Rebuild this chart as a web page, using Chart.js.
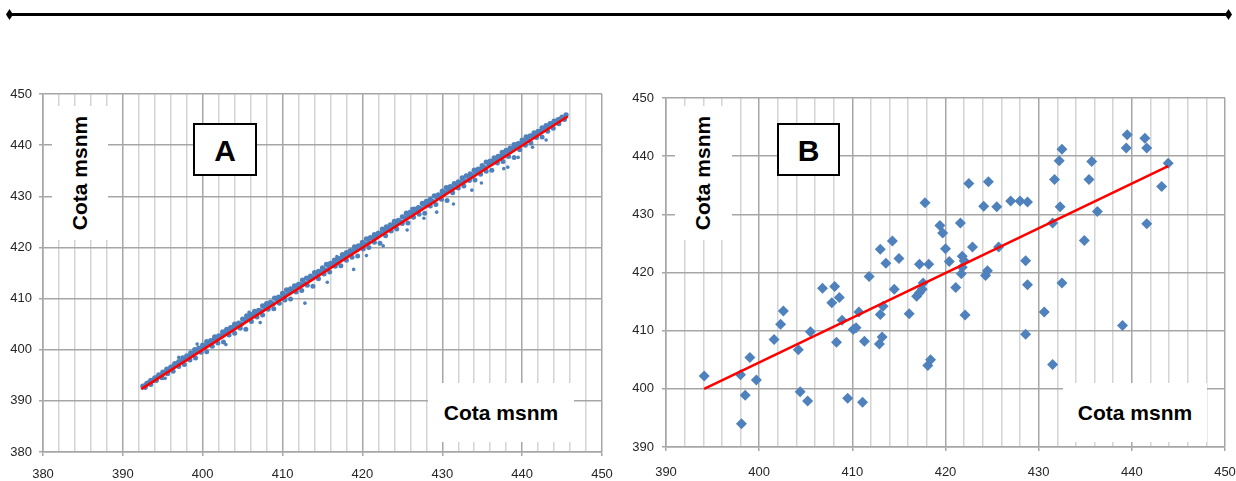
<!DOCTYPE html>
<html>
<head>
<meta charset="utf-8">
<script src="https://cdn.jsdelivr.net/npm/chart.js@4/dist/chart.umd.min.js"></script>
<style>
  body { margin: 0; background: #fff; width: 1236px; height: 481px; position: relative; overflow: hidden;
         font-family: "Liberation Sans", Arial, sans-serif; }
  .rule { position: absolute; left: 10px; top: 13px; width: 1218px; height: 3px; background: #000; }
  .tip { position: absolute; top: 9px; width: 7px; height: 11px; background: #000;
         clip-path: polygon(50% 0, 100% 50%, 50% 100%, 0 50%); }
  .panel { position: absolute; top: 80px; }
  .tag { position: absolute; box-sizing: border-box; background: #fff; border: 2px solid #000;
         font-weight: bold; font-size: 30px; padding-top: 3px;
         display: flex; align-items: center; justify-content: center; z-index: 2; }
  .title { position: absolute; background: #fff; font-weight: bold; font-size: 21px; color: #000;
           display: flex; align-items: center; justify-content: center; z-index: 2; }
  .title.v span { display: block; white-space: nowrap; transform: rotate(-90deg); }
</style>
</head>
<body>
<div class="rule"></div>
<div class="tip" style="left:6px"></div>
<div class="tip" style="left:1225px"></div>

<div class="panel" style="left:0"><canvas id="chartA" width="615" height="401"></canvas></div>
<div class="panel" style="left:620px"><canvas id="chartB" width="616" height="401"></canvas></div>

<div class="tag" style="left:193px;top:123px;width:64px;height:53px">A</div>
<div class="tag" style="left:777px;top:123px;width:63px;height:53px">B</div>
<div class="title v" style="left:52px;top:106px;width:56px;height:134px"><span>Cota msnm</span></div>
<div class="title v" style="left:675px;top:106px;width:57px;height:134px"><span>Cota msnm</span></div>
<div class="title" style="left:428px;top:383px;width:146px;height:59px">Cota msnm</div>
<div class="title" style="left:1063px;top:383px;width:144px;height:59px">Cota msnm</div>

<script>
// Panel A: dense cloud of measured vs. computed heights (upper fringe, core, lower fringe)
const bandUpperA = [
  [392.5,392.9],[393.0,393.4],[393.5,394.0],[394.0,394.5],[394.5,395.1],[395.0,395.6],[395.5,396.2],
  [396.0,396.6],[396.5,397.3],[397.0,397.7],[397.5,398.4],[398.0,398.8],[398.5,399.4],[399.0,400.0],
  [399.5,400.3],[400.0,400.9],[400.5,401.6],[401.0,401.8],[401.5,402.5],[402.0,402.7],[402.5,403.5],
  [403.0,404.0],[403.5,404.3],[404.0,405.0],[404.5,405.2],[405.0,406.0],[405.5,406.6],[406.0,406.9],
  [406.5,407.5],[407.0,407.7],[407.5,408.6],[408.0,409.0],[408.5,409.3],[409.0,410.1],[409.5,410.3],
  [410.0,411.0],[410.5,411.7],[411.0,411.9],[411.5,412.5],[412.0,412.8],[412.5,413.6],[413.0,414.0],
  [413.5,414.4],[414.0,415.1],[414.5,415.3],[415.0,416.0],[415.5,416.7],[416.0,416.9],[416.5,417.5],
  [417.0,417.8],[417.5,418.6],[418.0,419.0],[418.5,419.4],[419.0,420.1],[419.5,420.3],[420.0,421.0],
  [420.5,421.7],[421.0,421.9],[421.5,422.5],[422.0,422.8],[422.5,423.6],[423.0,424.0],[423.5,424.4],
  [424.0,425.1],[424.5,425.3],[425.0,426.0],[425.5,426.7],[426.0,426.9],[426.5,427.5],[427.0,427.8],
  [427.5,428.6],[428.0,429.0],[428.5,429.4],[429.0,430.1],[429.5,430.3],[430.0,431.0],[430.5,431.7],
  [431.0,431.9],[431.5,432.5],[432.0,432.8],[432.5,433.6],[433.0,434.0],[433.5,434.4],[434.0,435.1],
  [434.5,435.3],[435.0,436.0],[435.5,436.7],[436.0,436.9],[436.5,437.5],[437.0,437.8],[437.5,438.6],
  [438.0,439.0],[438.5,439.4],[439.0,440.1],[439.5,440.3],[440.0,441.0],[440.5,441.6],[441.0,441.8],
  [441.5,442.4],[442.0,442.7],[442.5,443.4],[443.0,443.8],[443.5,444.2],[444.0,444.7],[444.5,445.0],
  [445.0,445.5],[445.5,445.9]
];
const bandCoreA = [
  [392.8,393.0],[393.3,393.6],[393.8,394.0],[394.3,394.6],[394.8,395.0],[395.3,395.6],[395.8,396.1],
  [396.3,396.7],[396.8,397.1],[397.3,397.7],[397.8,398.1],[398.3,398.7],[398.8,399.2],[399.3,399.6],
  [399.8,400.3],[400.3,400.7],[400.8,401.0],[401.3,401.8],[401.8,402.1],[402.3,402.7],[402.8,403.2],
  [403.3,403.6],[403.8,404.3],[404.3,404.7],[404.8,405.0],[405.3,405.8],[405.8,406.1],[406.3,406.7],
  [406.8,407.2],[407.3,407.6],[407.8,408.3],[408.3,408.7],[408.8,409.0],[409.3,409.8],[409.8,410.1],
  [410.3,410.7],[410.8,411.2],[411.3,411.6],[411.8,412.3],[412.3,412.7],[412.8,413.0],[413.3,413.8],
  [413.8,414.1],[414.3,414.7],[414.8,415.2],[415.3,415.6],[415.8,416.3],[416.3,416.7],[416.8,417.0],
  [417.3,417.8],[417.8,418.1],[418.3,418.7],[418.8,419.2],[419.3,419.6],[419.8,420.3],[420.3,420.7],
  [420.8,421.0],[421.3,421.8],[421.8,422.1],[422.3,422.7],[422.8,423.2],[423.3,423.6],[423.8,424.3],
  [424.3,424.7],[424.8,425.0],[425.3,425.8],[425.8,426.1],[426.3,426.7],[426.8,427.2],[427.3,427.6],
  [427.8,428.3],[428.3,428.7],[428.8,429.0],[429.3,429.8],[429.8,430.1],[430.3,430.7],[430.8,431.2],
  [431.3,431.6],[431.8,432.3],[432.3,432.7],[432.8,433.0],[433.3,433.8],[433.8,434.1],[434.3,434.7],
  [434.8,435.2],[435.3,435.6],[435.8,436.3],[436.3,436.7],[436.8,437.0],[437.3,437.8],[437.8,438.1],
  [438.3,438.7],[438.8,439.2],[439.3,439.6],[439.8,440.3],[440.3,440.7],[440.8,441.0],[441.3,441.8],
  [441.8,442.1],[442.3,442.7],[442.8,443.2],[443.3,443.6],[443.8,444.2],[444.3,444.6],[444.8,445.1]
];
const bandLowerA = [
  [392.8,392.6],[393.5,393.2],[394.2,394.0],[394.9,394.5],[395.6,395.3],[396.3,395.8],[397.0,396.7],
  [397.7,397.1],[398.4,398.0],[399.1,398.4],[399.8,399.5],[400.5,399.6],[401.2,400.7],[401.9,401.3],
  [402.6,401.5],[403.3,402.9],[404.0,403.2],[404.7,404.2],[405.4,404.0],[406.1,405.5],[406.8,406.4],
  [407.5,406.8],[408.2,407.9],[408.9,408.0],[409.6,409.1],[410.3,409.7],[411.0,409.9],[411.7,411.3],
  [412.4,411.6],[413.1,412.6],[413.8,412.4],[414.5,413.9],[415.2,414.8],[415.9,415.2],[416.6,416.3],
  [417.3,416.4],[418.0,417.5],[418.7,418.1],[419.4,418.3],[420.1,419.7],[420.8,420.0],[421.5,421.0],
  [422.2,420.8],[422.9,422.3],[423.6,423.2],[424.3,423.6],[425.0,424.7],[425.7,424.8],[426.4,425.9],
  [427.1,426.5],[427.8,426.7],[428.5,428.1],[429.2,428.4],[429.9,429.4],[430.6,429.2],[431.3,430.7],
  [432.0,431.6],[432.7,432.0],[433.4,433.1],[434.1,433.2],[434.8,434.3],[435.5,434.9],[436.2,435.1],
  [436.9,436.5],[437.6,436.8],[438.3,437.8],[439.0,437.6],[439.7,439.1],[440.4,440.0],[441.1,440.4],
  [441.8,441.5],[442.5,441.6],[443.2,442.7],[443.9,443.3],[444.6,444.2],[445.3,445.0]
];
const strayA = [
  [395.3,394.4],[397.0,398.5],[399.3,401.1],[402.9,401.0],[405.8,407.3],[407.2,405.3],[412.8,409.1],
  [415.6,413.2],[416.8,418.2],[418.9,415.7],[420.5,418.4],[422.6,420.3],[425.6,423.4],[426.2,427.6],
  [427.7,425.7],[429.3,426.9],[431.4,428.5],[433.7,431.2],[434.9,432.6],[437.7,435.4],[438.2,435.7],
  [439.5,437.6],[441.3,439.6],[443.0,441.0]
];
const trendA = [[392.3,392.3],[445.7,445.6]];

// Panel B: individual control points
const pointsB = [
  [394.1,402.2],[398.0,402.4],[399.0,405.4],[399.7,401.5],[398.5,398.9],[398.1,394.0],[401.6,408.5],
  [402.3,411.1],[402.6,413.4],[404.2,406.7],[404.4,399.5],[405.2,397.9],[405.5,409.8],[406.8,417.3],
  [408.1,417.6],[408.6,415.7],[407.8,414.8],[408.9,411.8],[408.3,408.0],[409.5,398.4],[410.1,410.2],
  [410.4,410.5],[410.7,413.2],[411.1,397.7],[411.3,408.2],[411.8,419.3],[412.9,407.7],[413.2,408.9],
  [413.0,412.8],[413.3,414.2],[413.0,424.0],[414.3,425.4],[413.6,421.6],[414.5,417.1],[415.0,422.4],
  [416.1,412.9],[417.8,432.0],[417.2,421.4],[418.2,421.4],[416.9,415.9],[417.2,416.5],[417.5,417.1],
  [417.6,418.2],[418.1,404.0],[418.4,405.0],[419.4,428.1],[419.7,426.8],[420.0,424.1],[420.4,421.9],
  [421.1,417.4],[421.6,428.5],[421.8,422.8],[422.0,422.0],[421.8,420.9],[421.7,419.8],[422.1,412.7],
  [422.5,435.3],[422.9,424.4],[424.1,431.4],[424.6,435.6],[424.3,419.5],[424.5,420.3],[425.5,431.3],
  [425.7,424.4],[427.0,432.3],[428.0,432.3],[428.8,432.1],[428.6,422.0],[428.8,417.9],[428.6,409.4],
  [430.6,413.2],[431.5,404.2],[431.5,428.5],[431.7,436.0],[432.2,439.2],[432.5,441.2],[432.3,431.3],
  [432.5,418.2],[434.9,425.5],[435.4,436.0],[435.7,439.1],[436.3,430.5],[439.0,410.9],[439.4,441.4],
  [439.5,443.7],[441.4,443.1],[441.6,441.4],[441.6,428.4],[443.2,434.8],[443.9,438.8]
];
const trendB = [[394.1,400.0],[443.9,438.3]];

const rangeA = { xMin: 380, xMax: 450, yMin: 380, yMax: 450 };
const rangeB = { xMin: 390, xMax: 450, yMin: 390, yMax: 450 };

const BLUE = '#4f81bd';
const RED = '#ff0000';
const GRID_MAJOR = '#a6a6a6';
const GRID_MINOR = '#d4d4d4';
const LABEL = '#262626';

const toXY = pts => pts.map(([x, y]) => ({ x, y }));
const isMajor = v => Math.round(v) % 10 === 0;

function buildScales(range, frame) {
  const font = { family: 'Liberation Sans', size: 13 };
  return {
    x: {
      type: 'linear',
      min: range.xMin,
      max: range.xMax,
      // fixed axis band; drop the edge padding Chart.js reserves for the end labels
      afterFit: scale => {
        scale.height = frame.xHeight;
        scale.paddingLeft = 0;
        scale.paddingRight = 0;
      },
      ticks: {
        stepSize: 2,
        autoSkip: false,
        maxRotation: 0,
        padding: frame.xPad,
        color: LABEL,
        font,
        callback: v => isMajor(v) ? String(v) : ''
      },
      grid: {
        color: c => isMajor(c.tick.value) ? GRID_MAJOR : GRID_MINOR,
        tickColor: c => isMajor(c.tick.value) ? GRID_MAJOR : 'rgba(0,0,0,0)',
        lineWidth: 1.5,
        tickLength: 4
      },
      border: { color: GRID_MAJOR, width: 1.5 }
    },
    y: {
      type: 'linear',
      min: range.yMin,
      max: range.yMax,
      afterFit: scale => {
        scale.width = frame.yWidth;
        scale.paddingTop = 0;
        scale.paddingBottom = 0;
      },
      ticks: { stepSize: 10, padding: frame.yPad, color: LABEL, font },
      grid: { color: GRID_MAJOR, lineWidth: 1.5, tickLength: 4 },
      border: { color: GRID_MAJOR, width: 1.5 }
    }
  };
}

function drawPanel(canvasId, datasets, range, frame) {
  const ctx = document.getElementById(canvasId).getContext('2d');
  return new Chart(ctx, {
    type: 'scatter',
    data: { datasets },
    options: {
      responsive: false,
      animation: false,
      devicePixelRatio: 1,
      layout: { autoPadding: false, padding: { top: frame.top, right: frame.right, left: 0, bottom: 0 } },
      plugins: { legend: { display: false }, tooltip: { enabled: false } },
      scales: buildScales(range, frame)
    }
  });
}

const trendStyle = { showLine: true, borderColor: RED, borderWidth: 2.6, pointRadius: 0, order: 0 };
const dotStyle = { backgroundColor: BLUE, borderWidth: 0 };

drawPanel('chartA', [
  { data: toXY(trendA), ...trendStyle },
  { data: toXY(bandUpperA), ...dotStyle, pointRadius: 2.6, order: 1 },
  { data: toXY(bandCoreA), ...dotStyle, pointRadius: 2.6, order: 2 },
  { data: toXY(bandLowerA), ...dotStyle, pointRadius: 2.5, order: 3 },
  { data: toXY(strayA), ...dotStyle, pointRadius: 1.8, order: 4 }
], rangeA, { top: 14, right: 13, yWidth: 43, xHeight: 29, xPad: 11, yPad: 7 });

drawPanel('chartB', [
  { data: toXY(trendB), ...trendStyle },
  { data: toXY(pointsB), ...dotStyle, pointStyle: 'rectRot', pointRadius: 5.5, order: 1 }
], rangeB, { top: 18, right: 11, yWidth: 46, xHeight: 34, xPad: 14, yPad: 8 });
</script>
</body>
</html>
